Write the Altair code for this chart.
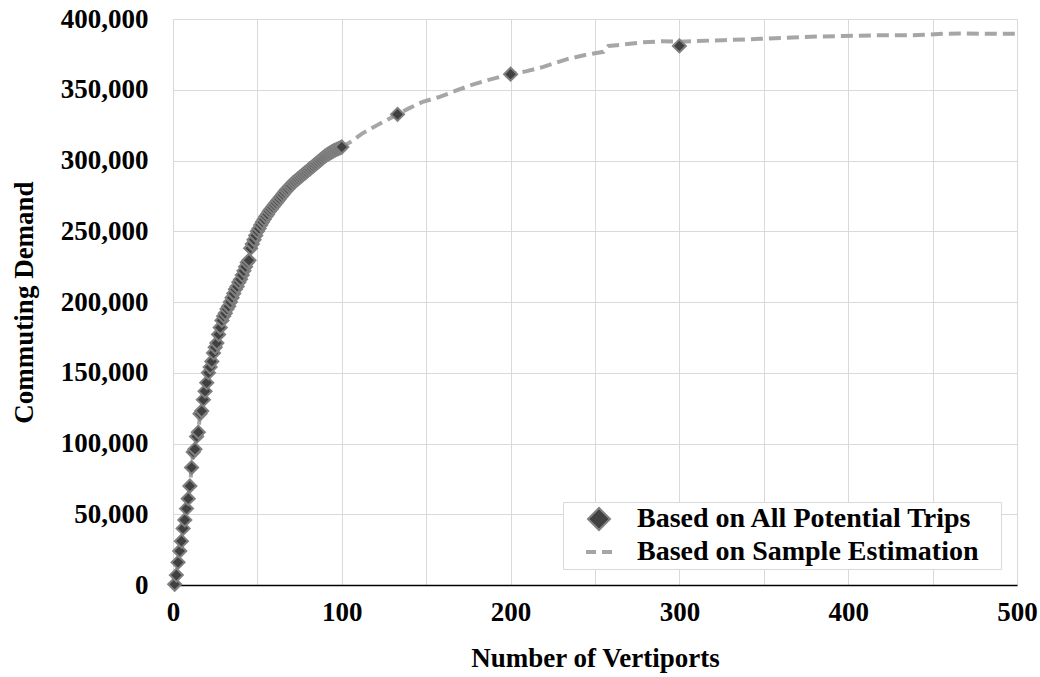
import altair as alt
import pandas as pd

# ---- data ----
all_x = list(range(1, 101)) + [133, 200, 300]
all_y = [
    500, 7000, 16000, 24000, 31000, 40000, 46000, 54000, 61000, 70000,
    83000, 94000, 96000, 105000, 108000, 121000, 123000, 131000, 137000, 143000,
    150000, 154000, 158000, 164000, 168000, 171000, 177000, 182000, 187000, 190000,
    192000, 195000, 197000, 200000, 203000, 206000, 209000, 211000, 214000, 216000,
    219000, 222000, 225000, 228000, 229500, 238000, 241000, 244000, 247000, 250000,
    252000, 254500, 256500, 258500, 260500, 262000, 264000, 265500, 267000, 268500,
    270000, 271500, 273000, 274500, 276000, 277500, 279000, 280000, 281500, 282500,
    284000, 285000, 286000, 287000, 288000, 289000, 290000, 291000, 292000, 293000,
    294000, 295000, 296000, 297000, 298000, 299000, 300000, 301000, 302000, 303000,
    303800, 304600, 305300, 306000, 306700, 307300, 307900, 308400, 308900, 309500,
    332600, 361000, 381000,
]

est_x = all_x[:100] + [105, 112, 121, 133, 140, 148, 158, 168, 176, 187, 200, 209,
                       219, 233, 244, 255, 258, 267, 278, 289, 300, 308, 326,
                       348, 367, 385, 397, 417, 437, 447, 456, 466, 486, 500]
est_y = all_y[:100] + [313000, 319000, 325000, 332600, 337000, 341500, 345000, 349500,
                       353000, 357000, 361000, 363000, 366000, 371500, 374500,
                       376800, 381000, 382000, 383500, 384200, 384000, 384400, 385000,
                       386000, 387000, 387700, 388000, 388500, 388500, 389000, 389500,
                       389800, 389500, 389500]

SERIES_A = "Based on All Potential Trips"
SERIES_B = "Based on Sample Estimation"
series_names = [SERIES_A, SERIES_B]

x_ticks = list(range(0, 501, 50))
y_ticks = list(range(0, 400001, 50000))

df_pts = pd.DataFrame({"n": all_x, "demand": all_y, "series": SERIES_A})
df_line = pd.DataFrame({"n": est_x, "demand": est_y, "series": SERIES_B})

FONT = "Liberation Serif"

xscale = alt.Scale(domain=[0, 500], nice=False, zero=False)
yscale = alt.Scale(domain=[0, 400000], nice=False)

x_axis = alt.Axis(
    title="Number of Vertiports", values=x_ticks, format=".0f",
    labelExpr="datum.value % 100 === 0 ? datum.label : ''",
    ticks=False, domain=True, domainColor="black", domainWidth=1.5,
    grid=True, gridColor="#d9d9d9", gridWidth=1,
    labelFont=FONT, labelFontSize=27, labelFontWeight="bold", labelColor="black",
    labelPadding=14, labelFlush=False,
    titleFont=FONT, titleFontSize=27, titleFontWeight="bold", titleColor="black",
    titlePadding=20,
)
y_axis = alt.Axis(
    title="Commuting Demand", values=y_ticks, format=",.0f",
    ticks=False, domain=False,
    grid=True, gridColor="#d9d9d9", gridWidth=1,
    labelFont=FONT, labelFontSize=27, labelFontWeight="bold", labelColor="black",
    labelPadding=25, labelFlush=False,
    titleFont=FONT, titleFontSize=27, titleFontWeight="bold", titleColor="black",
    titlePadding=22,
)

# dashed legend glyph: two short bars, in the [-1, 1] symbol space
DASH_PATH = "M-1.09,-0.09H-0.36V0.09H-1.09Z M0.36,-0.09H1.09V0.09H0.36Z"

legend = alt.Legend(
    title="x", titleOrient="right", titleOpacity=0, titleFontSize=28,
    titleFont=FONT, titlePadding=6,
    orient="none", legendX=390, legendY=483, direction="vertical",
    labelFont=FONT, labelFontSize=28, labelFontWeight="bold", labelColor="black",
    labelLimit=0, labelOffset=24, rowPadding=4, symbolOffset=19,
    fillColor="white", strokeColor="#d9d9d9", padding=3,
    symbolSize=484, symbolStrokeWidth=2, symbolOpacity=1,
)

line = alt.Chart(df_line).mark_line(
    strokeWidth=4, strokeDash=[12, 6], strokeCap="butt", color="#A6A6A6"
).encode(
    x=alt.X("n:Q", scale=xscale, axis=x_axis),
    y=alt.Y("demand:Q", scale=yscale, axis=y_axis),
)

points = alt.Chart(df_pts).mark_point(
    filled=True, strokeWidth=2, size=170, opacity=1,
).encode(
    x=alt.X("n:Q", scale=xscale),
    y=alt.Y("demand:Q", scale=yscale),
    color=alt.Color("series:N", scale=alt.Scale(domain=series_names,
                                                range=["#404040", "#A6A6A6"]), legend=legend),
    stroke=alt.Stroke("series:N", scale=alt.Scale(domain=series_names,
                                                  range=["#808080", "#A6A6A6"]), legend=legend),
    shape=alt.Shape("series:N", scale=alt.Scale(domain=series_names,
                                                range=["diamond", DASH_PATH]), legend=legend),
)

chart = alt.layer(line, points).properties(
    width=844, height=566,
    autosize=alt.AutoSizeParams(type="none"),
    padding={"left": 173, "top": 19, "right": 23, "bottom": 92},
    background="white",
).configure_view(stroke=None)

chart.save("out.html", embed_options={"renderer": "svg", "actions": False})
